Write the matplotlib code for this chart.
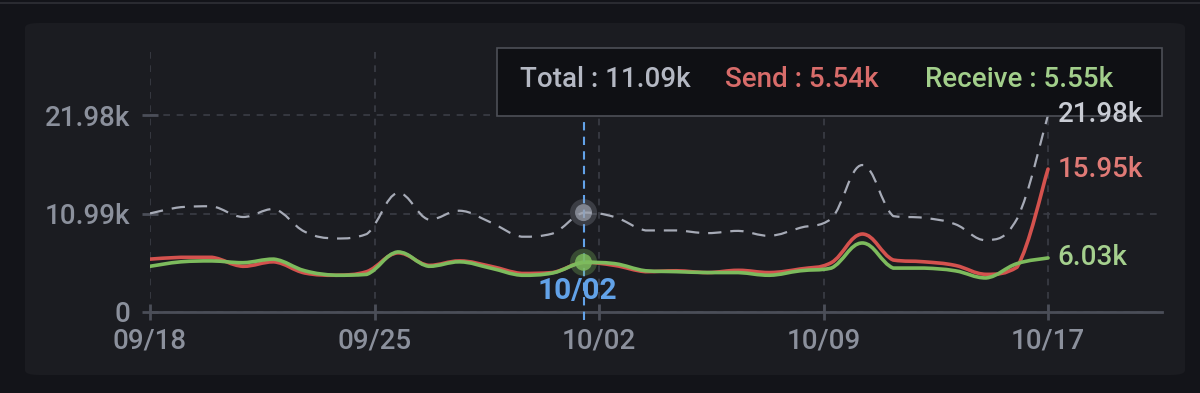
import numpy as np
import matplotlib
matplotlib.use("Agg")
import matplotlib.pyplot as plt
from matplotlib.patches import FancyBboxPatch, Rectangle, PathPatch
from matplotlib.path import Path

# daily traffic, values in k
dates = ["09/18", "09/19", "09/20", "09/21", "09/22", "09/23", "09/24", "09/25",
         "09/26", "09/27", "09/28", "09/29", "09/30", "10/01", "10/02", "10/03",
         "10/04", "10/05", "10/06", "10/07", "10/08", "10/09", "10/10", "10/11",
         "10/12", "10/13", "10/14", "10/15", "10/16", "10/17"]
send = [5.9, 6.1, 6.1, 5.1, 5.6, 4.35, 4.1, 4.5, 6.6, 5.2, 5.7, 5.1, 4.3, 4.4, 5.54,
        5.2, 4.5, 4.6, 4.4, 4.65, 4.4, 4.8, 5.5, 8.7, 5.8, 5.6, 5.2, 4.2, 5.0, 15.95]
receive = [5.1, 5.6, 5.7, 5.5, 5.9, 4.6, 4.1, 4.2, 6.7, 5.1, 5.6, 4.9, 4.1, 4.35, 5.55,
           5.4, 4.6, 4.5, 4.4, 4.4, 4.1, 4.6, 4.9, 7.7, 4.9, 4.9, 4.6, 3.8, 5.4, 6.03]
hover_idx = 14

BG = '#131419'
PANEL = '#1b1c21'
GRID = '#3b3d46'
AXIS = '#4b4e58'
LABEL = '#8b909c'
TOTAL_C = '#a6aab6'
SEND_C = '#d4524e'
RECV_C = '#7dbb5d'
BLUE = '#62a2e8'
FONT = ['Roboto', 'DejaVu Sans']


def smooth_path(xs, ys, k=0.2):
    """Bezier path through the points, like a smoothed echarts line."""
    pts = np.column_stack([xs, ys])
    n = len(pts)
    verts = [pts[0]]
    codes = [Path.MOVETO]
    for i in range(n - 1):
        p0 = pts[max(i - 1, 0)]
        p1, p2 = pts[i], pts[i + 1]
        p3 = pts[min(i + 2, n - 1)]
        c1 = p1 + (p2 - p0) * k
        c2 = p2 - (p3 - p1) * k
        # keep control points inside the segment's value range (no overshoot)
        lo, hi = min(p1[1], p2[1]), max(p1[1], p2[1])
        c1[1] = np.clip(c1[1], lo, hi)
        c2[1] = np.clip(c2[1], lo, hi)
        verts += [c1, c2, p2]
        codes += [Path.CURVE4] * 3
    return Path(verts, codes)


x = np.arange(len(dates))
send = np.array(send) * 1000
receive = np.array(receive) * 1000
total = send + receive
ymax_tick = total.max()

plt.rcParams['font.family'] = FONT
fig = plt.figure(figsize=(12, 3.93), dpi=100, facecolor=BG)

# card background
card = FancyBboxPatch((25 / 1200, 18 / 393), 1160 / 1200, 352 / 393,
                      boxstyle="round,pad=0,rounding_size=0.012",
                      transform=fig.transFigure, facecolor=PANEL,
                      edgecolor='none', zorder=-5)
fig.add_artist(card)
fig.add_artist(plt.Line2D([0, 1], [1 - 3 / 393] * 2, transform=fig.transFigure,
                          color='#2a2b31', lw=1.5, zorder=-4))

ax = fig.add_axes([150 / 1200, (393 - 312) / 393, 1012 / 1200, 264 / 393])
ax.patch.set_alpha(0)
ax.set_xlim(0, 32.68)
ax.set_ylim(0, ymax_tick * 264 / 197)

ax.add_patch(PathPatch(smooth_path(x, send), facecolor='none', edgecolor=SEND_C,
                       lw=2.6, joinstyle='round', capstyle='round', zorder=3))
ax.add_patch(PathPatch(smooth_path(x, receive), facecolor='none', edgecolor=RECV_C,
                       lw=2.6, joinstyle='round', capstyle='round', zorder=4))
ax.add_patch(PathPatch(smooth_path(x, total), facecolor='none', edgecolor=TOTAL_C,
                       lw=1.6, linestyle=(0, (6, 4)), zorder=5))

# grid and axes
yticks = [0, ymax_tick / 2, ymax_tick]
ax.set_yticks(yticks)
ax.set_yticklabels(['0'] + [f'{v / 1000:.2f}k' for v in yticks[1:]])
xticks = np.linspace(0, len(dates) - 1, 5)
ax.set_xticks(xticks)
ax.set_xticklabels([dates[int(t)] for t in xticks])
ax.grid(True, color=GRID, linestyle=(0, (4, 4)), lw=1.2)
for s in ['top', 'right', 'left']:
    ax.spines[s].set_visible(False)
ax.spines['bottom'].set_color(AXIS)
ax.spines['bottom'].set_linewidth(2)
ax.tick_params(axis='both', colors=AXIS, labelcolor=LABEL, labelsize=20,
               direction='inout', length=12, width=2)
ax.tick_params(axis='y', pad=8)
ax.tick_params(axis='x', pad=5)
for lab in ax.get_xticklabels() + ax.get_yticklabels():
    lab.set_fontweight('medium')

# end labels
end_colors = [('#c9ccd4', total[-1]), ('#e07a76', send[-1]), ('#a5d08e', receive[-1])]
for c, v in end_colors:
    ax.annotate(f'{v / 1000:.2f}k', (x[-1], v), xytext=(7, 0), textcoords='offset points',
                color=c, fontsize=20, fontweight='medium', va='center', ha='left', zorder=10)

# hover crosshair
ax.axvline(x[hover_idx], ymin=-0.03, ymax=1, color=BLUE, lw=1.5, dashes=(4, 3),
           zorder=6, clip_on=False)
ax.scatter([x[hover_idx]], [total[hover_idx]], s=380, color='#9ea3b0', alpha=0.25, zorder=7,
           edgecolors='none')
ax.scatter([x[hover_idx]], [total[hover_idx]], s=150, color='#9ea3b0', alpha=0.7, zorder=7,
           edgecolors='none')
ax.scatter([x[hover_idx]], [receive[hover_idx]], s=380, color=RECV_C, alpha=0.3, zorder=7,
           edgecolors='none')
ax.scatter([x[hover_idx]], [receive[hover_idx]], s=150, color=RECV_C, alpha=0.85, zorder=7,
           edgecolors='none')
ax.text(x[hover_idx] - 0.2, 0.08, dates[hover_idx], transform=ax.get_xaxis_transform(),
        color=BLUE, fontsize=21.5, fontweight='bold', ha='center', va='center', zorder=8)

# tooltip
ax.add_patch(Rectangle((347 / 1012, 0.742), 665 / 1012, 0.258, transform=ax.transAxes,
                       facecolor='#0f1014', edgecolor='#4d4f57', lw=1.2, zorder=9,
                       clip_on=False))
tips = [(0.366, f'Total : {total[hover_idx] / 1000:.2f}k', '#b4b8c3'),
        (0.568, f'Send : {send[hover_idx] / 1000:.2f}k', '#d86c6a'),
        (0.766, f'Receive : {receive[hover_idx] / 1000:.2f}k', '#a2cf8b')]
for tx, s, c in tips:
    ax.text(tx, 0.879, s, transform=ax.transAxes, color=c, fontsize=20,
            fontweight='medium', ha='left', va='center', zorder=10)

fig.savefig('out.png', dpi=100, facecolor=BG)
